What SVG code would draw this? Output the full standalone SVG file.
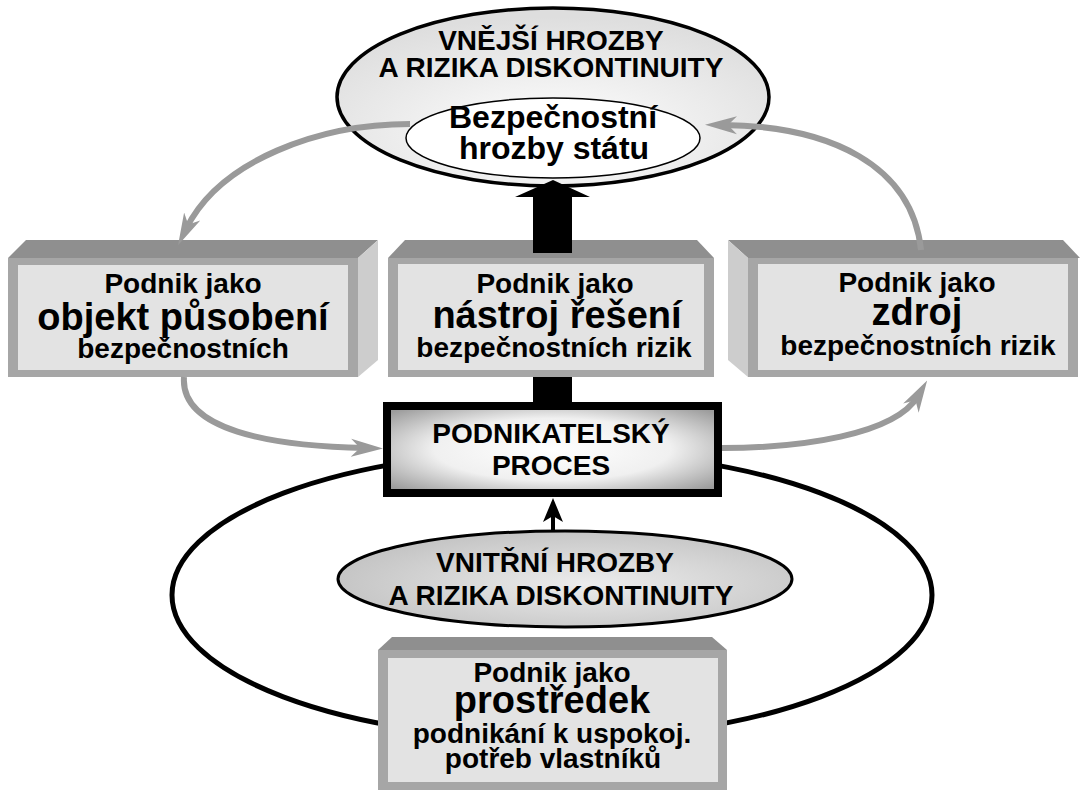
<svg xmlns="http://www.w3.org/2000/svg" width="1081" height="790" viewBox="0 0 1081 790">
<style>
  text { font-family: "Liberation Sans", Arial, sans-serif; font-weight: bold; fill: #000; text-anchor: middle; }
  .s { font-size: 28px; }
  .b { font-size: 38px; }
  .m { font-size: 32px; }
  .topface { fill: #8f8f8f; }
  .sideface { fill: #cdcdcd; }
  .front { fill: #a6a6a6; }
  .panel { fill: #e3e3e3; }
  .garrow { fill: none; stroke: #9a9a9a; stroke-width: 6; }
</style>
<defs>
  <radialGradient id="gTop" cx="50%" cy="70%" r="65%">
    <stop offset="0" stop-color="#ffffff"/>
    <stop offset="1" stop-color="#dedede"/>
  </radialGradient>
  <radialGradient id="gIn" cx="55%" cy="55%" r="60%">
    <stop offset="0" stop-color="#ececec"/>
    <stop offset="1" stop-color="#c2c2c2"/>
  </radialGradient>
  <radialGradient id="gProc" cx="50%" cy="50%" r="65%">
    <stop offset="0" stop-color="#ffffff"/>
    <stop offset="0.55" stop-color="#f0f0f0"/>
    <stop offset="1" stop-color="#9c9c9c"/>
  </radialGradient>
  <marker id="ah" markerUnits="userSpaceOnUse" markerWidth="32" markerHeight="20" viewBox="0 0 32 20" refX="14" refY="10" orient="auto">
    <path d="M0,1 L32,10 L0,19 L9,10 z" fill="#9a9a9a"/>
  </marker>
</defs>

<g id="ring">
  <ellipse cx="552" cy="595" rx="380" ry="144" fill="none" stroke="#000" stroke-width="5"/>
</g>

<g id="external-threats">
  <ellipse cx="553" cy="97" rx="216" ry="89" fill="url(#gTop)" stroke="#000" stroke-width="3.5"/>
  <text class="s" x="551" y="50">VNĚJŠÍ HROZBY</text>
  <text class="s" x="551" y="77">A RIZIKA DISKONTINUITY</text>
</g>

<g id="state-threats">
  <ellipse cx="553" cy="138" rx="147" ry="40" fill="#fff" stroke="#000" stroke-width="1.5"/>
  <text class="m" x="553" y="128">Bezpečnostní</text>
  <text class="m" x="554" y="159">hrozby státu</text>
</g>

<g id="box-object">
  <polygon class="topface" points="8,258 26,240 378,240 358,258"/>
  <polygon class="sideface" points="358,258 378,240 378,360 358,377"/>
  <rect class="front" x="8" y="258" width="350" height="119"/>
  <rect class="panel" x="18" y="265" width="330" height="105"/>
  <text class="s" x="183" y="293">Podnik jako</text>
  <text class="b" x="183" y="330">objekt působení</text>
  <text class="s" x="183" y="358">bezpečnostních</text>
</g>

<g id="box-tool">
  <polygon class="topface" points="388,258 405,240 697,240 714,258"/>
  <rect class="front" x="388" y="258" width="326" height="119"/>
  <rect class="panel" x="398" y="264" width="306" height="106"/>
  <text class="s" x="555" y="293">Podnik jako</text>
  <text class="b" x="557" y="328">nástroj řešení</text>
  <text class="s" x="554" y="357">bezpečnostních rizik</text>
</g>

<g id="box-source">
  <polygon class="topface" points="728,240 1063,240 1080,258 748,258"/>
  <polygon class="sideface" points="728,240 748,258 748,377 728,360"/>
  <rect class="front" x="748" y="258" width="330" height="119"/>
  <rect class="panel" x="758" y="264" width="310" height="106"/>
  <text class="s" x="917" y="292">Podnik jako</text>
  <text class="b" x="917" y="325">zdroj</text>
  <text class="s" x="918" y="355">bezpečnostních rizik</text>
</g>

<g id="process">
  <rect x="387" y="406" width="331" height="87" fill="url(#gProc)" stroke="#000" stroke-width="8"/>
  <text class="s" x="551" y="443">PODNIKATELSKÝ</text>
  <text class="s" x="551" y="475">PROCES</text>
</g>

<g id="internal-threats">
  <ellipse cx="565" cy="579" rx="227" ry="48" fill="url(#gIn)" stroke="#000" stroke-width="3"/>
  <text class="s" x="555" y="572">VNITŘNÍ HROZBY</text>
  <text class="s" x="561" y="605">A RIZIKA DISKONTINUITY</text>
</g>

<g id="box-means">
  <polygon class="topface" points="392,637 712,637 727,650 378,650"/>
  <rect class="front" x="378" y="650" width="349" height="140"/>
  <rect class="panel" x="388" y="658" width="330" height="124"/>
  <text class="s" x="552" y="682">Podnik jako</text>
  <text class="b" x="552" y="713">prostředek</text>
  <text class="s" x="552" y="743">podnikání k uspokoj.</text>
  <text class="s" x="553" y="768">potřeb vlastníků</text>
</g>

<g id="connectors">
  <polygon points="553,180 590,197 572,197 572,253 533,253 533,197 515,197" fill="#000"/>
  <rect x="533" y="377" width="39" height="26" fill="#000"/>
  <line x1="553" y1="530" x2="553" y2="510" stroke="#000" stroke-width="4"/>
  <path d="M553,498 L563,522 L553,516 L543,522 z" fill="#000"/>
  <path class="garrow" d="M410,124 C320,124 220,160 186,229" marker-end="url(#ah)"/>
  <path class="garrow" d="M921,250 C912,165 830,126 723,125" marker-end="url(#ah)"/>
  <path class="garrow" d="M184,377 C180,430 270,446 365,448" marker-end="url(#ah)"/>
  <path class="garrow" d="M722,448 C800,448 895,435 918,396" marker-end="url(#ah)"/>
</g>
</svg>
